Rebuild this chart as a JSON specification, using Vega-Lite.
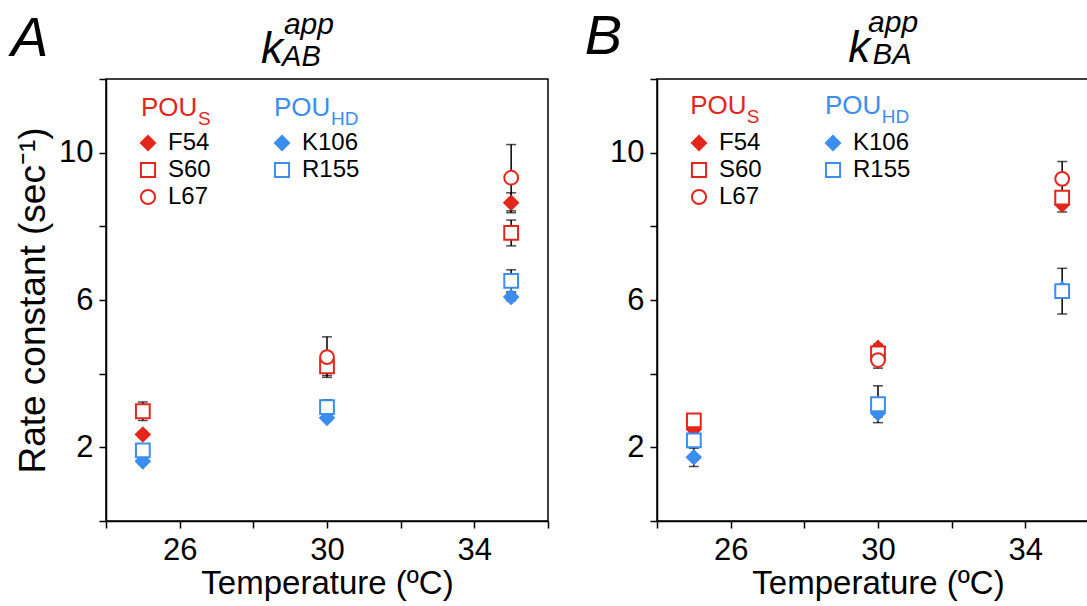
{
  "$schema": "https://vega.github.io/schema/vega-lite/v6.json",
  "padding": {"left": 10, "top": 7, "right": 0, "bottom": 0},
  "background": "white",
  "datasets": {
    "rates": [
      {"panel": "A", "temp": 25, "series": "F54", "rate": 2.35, "err": 0.08},
      {"panel": "A", "temp": 25, "series": "S60", "rate": 2.98, "err": 0.25},
      {"panel": "A", "temp": 25, "series": "K106", "rate": 1.62, "err": 0.08},
      {"panel": "A", "temp": 25, "series": "R155", "rate": 1.92, "err": 0.08},
      {"panel": "A", "temp": 30, "series": "S60", "rate": 4.2, "err": 0.25},
      {"panel": "A", "temp": 30, "series": "L67", "rate": 4.45, "err": 0.55},
      {"panel": "A", "temp": 30, "series": "K106", "rate": 2.8, "err": 0.08},
      {"panel": "A", "temp": 30, "series": "R155", "rate": 3.09, "err": 0.2},
      {"panel": "A", "temp": 35, "series": "F54", "rate": 8.64, "err": 0.27},
      {"panel": "A", "temp": 35, "series": "S60", "rate": 7.82, "err": 0.35},
      {"panel": "A", "temp": 35, "series": "L67", "rate": 9.32, "err": 0.9},
      {"panel": "A", "temp": 35, "series": "K106", "rate": 6.08, "err": 0.1},
      {"panel": "A", "temp": 35, "series": "R155", "rate": 6.52, "err": 0.3},
      {"panel": "B", "temp": 25, "series": "F54", "rate": 2.49, "err": 0.1},
      {"panel": "B", "temp": 25, "series": "S60", "rate": 2.73, "err": 0.15},
      {"panel": "B", "temp": 25, "series": "K106", "rate": 1.73, "err": 0.25},
      {"panel": "B", "temp": 25, "series": "R155", "rate": 2.19, "err": 0.2},
      {"panel": "B", "temp": 30, "series": "F54", "rate": 4.7, "err": 0.1},
      {"panel": "B", "temp": 30, "series": "S60", "rate": 4.55, "err": 0.1},
      {"panel": "B", "temp": 30, "series": "L67", "rate": 4.37, "err": 0.22},
      {"panel": "B", "temp": 30, "series": "K106", "rate": 2.93, "err": 0.1},
      {"panel": "B", "temp": 30, "series": "R155", "rate": 3.17, "err": 0.5},
      {"panel": "B", "temp": 35, "series": "F54", "rate": 8.59, "err": 0.2},
      {"panel": "B", "temp": 35, "series": "S60", "rate": 8.78, "err": 0.15},
      {"panel": "B", "temp": 35, "series": "L67", "rate": 9.29, "err": 0.47},
      {"panel": "B", "temp": 35, "series": "K106", "rate": 6.3, "err": 0.1},
      {"panel": "B", "temp": 35, "series": "R155", "rate": 6.24, "err": 0.62}
    ]
  },
  "spacing": 34,
  "resolve": {"scale": {"fill": "independent", "stroke": "independent", "shape": "independent"}},
  "hconcat": [
    {
      "width": 442,
      "height": 442,
      "layer": [
        {
          "data": {"name": "rates"},
          "transform": [{"filter": "datum.panel == 'A'"}],
          "mark": {"type": "errorbar", "color": "black", "ticks": {"size": 10, "color": "black", "thickness": 1.5}, "rule": {"strokeWidth": 1.5}},
          "encoding": {
            "x": {"field": "temp", "type": "quantitative", "scale": {"domain": [24, 36]},
              "axis": {"values": [24, 26, 28, 30, 32, 34, 36], "labelExpr": "datum.value % 4 == 2 ? datum.label : ''", "title": "Temperature (ºC)"}},
            "y": {"field": "rate", "type": "quantitative", "scale": {"domain": [0, 12]},
              "axis": {"values": [0, 2, 4, 6, 8, 10, 12], "labelExpr": "datum.value % 4 == 2 ? datum.label : ''", "title": "Rate constant (sec⁻¹)"}},
            "yError": {"field": "err"}
          }
        },
        {
          "data": {"name": "rates"},
          "transform": [{"filter": "datum.panel == 'A'"}],
          "mark": {"type": "point", "size": 190, "strokeWidth": 2, "opacity": 1},
          "encoding": {
            "x": {"field": "temp", "type": "quantitative"},
            "y": {"field": "rate", "type": "quantitative"},
            "shape": {"field": "series", "type": "nominal", "scale": {"domain": ["F54", "S60", "L67", "K106", "R155"], "range": ["diamond", "square", "circle", "diamond", "square"]}},
            "stroke": {"field": "series", "type": "nominal", "scale": {"domain": ["F54", "S60", "L67", "K106", "R155"], "range": ["#e3261c", "#e3261c", "#e3261c", "#3b8df0", "#3b8df0"]}},
            "fill": {"field": "series", "type": "nominal", "scale": {"domain": ["F54", "S60", "L67", "K106", "R155"], "range": ["#e3261c", "white", "white", "#3b8df0", "white"]}}
          }
        },
        {"data": {"values": [{}]}, "mark": {"type": "text", "text": "A", "fontSize": 56, "fontStyle": "italic", "align": "left", "baseline": "alphabetic", "clip": false, "color": "black"},
          "encoding": {"x": {"datum": 21.42, "type": "quantitative"}, "y": {"datum": 12.62, "type": "quantitative"}}},
        {"data": {"values": [{}]}, "mark": {"type": "text", "text": "k", "fontSize": 44, "fontStyle": "italic", "align": "left", "baseline": "alphabetic", "clip": false, "color": "black"},
          "encoding": {"x": {"datum": 28.21, "type": "quantitative"}, "y": {"datum": 12.43, "type": "quantitative"}}},
        {"data": {"values": [{}]}, "mark": {"type": "text", "text": "AB", "fontSize": 29, "fontStyle": "italic", "align": "left", "baseline": "alphabetic", "clip": false, "color": "black"},
          "encoding": {"x": {"datum": 28.78, "type": "quantitative"}, "y": {"datum": 12.35, "type": "quantitative"}}},
        {"data": {"values": [{}]}, "mark": {"type": "text", "text": "app", "fontSize": 30, "fontStyle": "italic", "align": "left", "baseline": "alphabetic", "clip": false, "color": "black"},
          "encoding": {"x": {"datum": 28.83, "type": "quantitative"}, "y": {"datum": 13.22, "type": "quantitative"}}},
        {"data": {"values": [{}]}, "mark": {"type": "text", "text": "POU", "fontSize": 26, "align": "left", "baseline": "alphabetic", "color": "#e3261c"},
          "encoding": {"x": {"datum": 24.95, "type": "quantitative"}, "y": {"datum": 11.0, "type": "quantitative"}}},
        {"data": {"values": [{}]}, "mark": {"type": "text", "text": "S", "fontSize": 19, "align": "left", "baseline": "alphabetic", "color": "#e3261c"},
          "encoding": {"x": {"datum": 26.5, "type": "quantitative"}, "y": {"datum": 10.75, "type": "quantitative"}}},
        {"data": {"values": [{}]}, "mark": {"type": "text", "text": "POU", "fontSize": 26, "align": "left", "baseline": "alphabetic", "color": "#3b8df0"},
          "encoding": {"x": {"datum": 28.56, "type": "quantitative"}, "y": {"datum": 11.0, "type": "quantitative"}}},
        {"data": {"values": [{}]}, "mark": {"type": "text", "text": "HD", "fontSize": 19, "align": "left", "baseline": "alphabetic", "color": "#3b8df0"},
          "encoding": {"x": {"datum": 30.11, "type": "quantitative"}, "y": {"datum": 10.75, "type": "quantitative"}}}
      ]
    },
    {
      "width": 442,
      "height": 442,
      "layer": [
        {
          "data": {"name": "rates"},
          "transform": [{"filter": "datum.panel == 'B'"}],
          "mark": {"type": "errorbar", "color": "black", "ticks": {"size": 10, "color": "black", "thickness": 1.5}, "rule": {"strokeWidth": 1.5}},
          "encoding": {
            "x": {"field": "temp", "type": "quantitative", "scale": {"domain": [24, 36]},
              "axis": {"values": [24, 26, 28, 30, 32, 34, 36], "labelExpr": "datum.value % 4 == 2 ? datum.label : ''", "title": "Temperature (ºC)"}},
            "y": {"field": "rate", "type": "quantitative", "scale": {"domain": [0, 12]},
              "axis": {"values": [0, 2, 4, 6, 8, 10, 12], "labelExpr": "datum.value % 4 == 2 ? datum.label : ''", "title": null}},
            "yError": {"field": "err"}
          }
        },
        {
          "data": {"name": "rates"},
          "transform": [{"filter": "datum.panel == 'B'"}],
          "mark": {"type": "point", "size": 190, "strokeWidth": 2, "opacity": 1},
          "encoding": {
            "x": {"field": "temp", "type": "quantitative"},
            "y": {"field": "rate", "type": "quantitative"},
            "shape": {"field": "series", "type": "nominal", "scale": {"domain": ["F54", "S60", "L67", "K106", "R155"], "range": ["diamond", "square", "circle", "diamond", "square"]}},
            "stroke": {"field": "series", "type": "nominal", "scale": {"domain": ["F54", "S60", "L67", "K106", "R155"], "range": ["#e3261c", "#e3261c", "#e3261c", "#3b8df0", "#3b8df0"]}},
            "fill": {"field": "series", "type": "nominal", "scale": {"domain": ["F54", "S60", "L67", "K106", "R155"], "range": ["#e3261c", "white", "white", "#3b8df0", "white"]}}
          }
        },
        {"data": {"values": [{}]}, "mark": {"type": "text", "text": "B", "fontSize": 56, "fontStyle": "italic", "align": "left", "baseline": "alphabetic", "clip": false, "color": "black"},
          "encoding": {"x": {"datum": 22.04, "type": "quantitative"}, "y": {"datum": 12.68, "type": "quantitative"}}},
        {"data": {"values": [{}]}, "mark": {"type": "text", "text": "k", "fontSize": 44, "fontStyle": "italic", "align": "left", "baseline": "alphabetic", "clip": false, "color": "black"},
          "encoding": {"x": {"datum": 29.19, "type": "quantitative"}, "y": {"datum": 12.46, "type": "quantitative"}}},
        {"data": {"values": [{}]}, "mark": {"type": "text", "text": "BA", "fontSize": 29, "fontStyle": "italic", "align": "left", "baseline": "alphabetic", "clip": false, "color": "black"},
          "encoding": {"x": {"datum": 29.86, "type": "quantitative"}, "y": {"datum": 12.41, "type": "quantitative"}}},
        {"data": {"values": [{}]}, "mark": {"type": "text", "text": "app", "fontSize": 30, "fontStyle": "italic", "align": "left", "baseline": "alphabetic", "clip": false, "color": "black"},
          "encoding": {"x": {"datum": 29.73, "type": "quantitative"}, "y": {"datum": 13.28, "type": "quantitative"}}},
        {"data": {"values": [{}]}, "mark": {"type": "text", "text": "POU", "fontSize": 26, "align": "left", "baseline": "alphabetic", "color": "#e3261c"},
          "encoding": {"x": {"datum": 24.9, "type": "quantitative"}, "y": {"datum": 11.05, "type": "quantitative"}}},
        {"data": {"values": [{}]}, "mark": {"type": "text", "text": "S", "fontSize": 19, "align": "left", "baseline": "alphabetic", "color": "#e3261c"},
          "encoding": {"x": {"datum": 26.44, "type": "quantitative"}, "y": {"datum": 10.8, "type": "quantitative"}}},
        {"data": {"values": [{}]}, "mark": {"type": "text", "text": "POU", "fontSize": 26, "align": "left", "baseline": "alphabetic", "color": "#3b8df0"},
          "encoding": {"x": {"datum": 28.56, "type": "quantitative"}, "y": {"datum": 11.05, "type": "quantitative"}}},
        {"data": {"values": [{}]}, "mark": {"type": "text", "text": "HD", "fontSize": 19, "align": "left", "baseline": "alphabetic", "color": "#3b8df0"},
          "encoding": {"x": {"datum": 30.1, "type": "quantitative"}, "y": {"datum": 10.8, "type": "quantitative"}}}
      ]
    }
  ],
  "config": {
    "font": "Liberation Sans",
    "view": {"stroke": "black", "strokeWidth": 1.5},
    "text": {"font": "Liberation Sans"},
    "axis": {"grid": false, "domainColor": "black", "domainWidth": 1.5, "tickColor": "black", "tickWidth": 1.5, "tickSize": 7,
      "labelColor": "black", "titleColor": "black", "titleFontWeight": "normal", "labelFont": "Liberation Sans", "titleFont": "Liberation Sans", "labelOverlap": false},
    "axisX": {"labelFontSize": 31, "titleFontSize": 33, "labelPadding": 7, "titlePadding": 2},
    "axisY": {"labelFontSize": 31, "titleFontSize": 37, "labelPadding": 6, "titlePadding": 6},
    "legend": {"orient": "none", "legendX": 30, "legendY": 52, "columns": 2, "title": null, "padding": 0,
      "labelFont": "Liberation Sans", "labelFontSize": 24, "labelColor": "black", "symbolStrokeWidth": 2, "symbolSize": 200,
      "rowPadding": 3, "columnPadding": 44, "labelOffset": 8, "gridAlign": "all"}
  }
}
